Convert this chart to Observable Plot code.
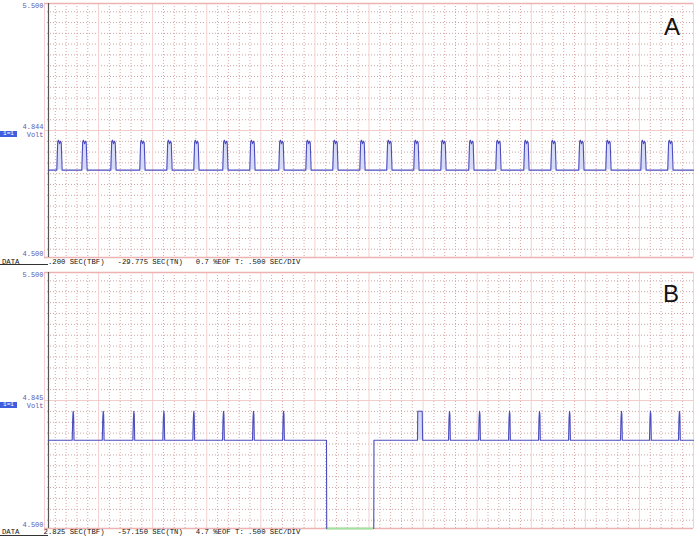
<!DOCTYPE html>
<html><head><meta charset="utf-8">
<script src="https://cdn.jsdelivr.net/npm/d3@7"></script>
<script src="https://cdn.jsdelivr.net/npm/@observablehq/plot@0.6"></script>
<style>
body{margin:0;background:#fff;}
#wrap{position:relative;width:700px;height:537px;overflow:hidden;font-family:"Liberation Mono",monospace;}
.panel{position:absolute;left:0;}
.row{position:absolute;white-space:pre;font-size:7.25px;line-height:8px;color:#111;}
.ul{position:absolute;left:0;width:48px;height:1px;background:#333;}
.ch{position:absolute;left:0;width:17px;height:6px;background:#3f5ede;color:#fff;font-size:6px;line-height:6px;text-align:center;}
.letter{position:absolute;font-family:"Liberation Sans",Arial,sans-serif;font-size:24px;line-height:24px;color:#111;}
</style></head><body><div id="wrap"></div>
<script>
// ---- data ----
const timeDomain = [0, 6];            // seconds, .500 SEC/DIV, 12 divisions
const voltDomain = [4.5, 5.5];
const yTickValues = [5.5, 4.5];
const yTickLabels = ["5.500", "4.500"];
const traceStart = 0.035;

// Panel A
const levelLabelA = "4.844";
const baselineA = 4.844;
const pulseTimesA = [0.139, 0.370, 0.638, 0.906, 1.156, 1.405, 1.673, 1.923, 2.191, 2.441, 2.690, 2.940,
                     3.189, 3.439, 3.689, 3.947, 4.197, 4.456, 4.706, 4.964, 5.214, 5.538, 5.787];
const pulseOffsetsA = [-0.025, -0.017, -0.010, 0.000, 0.009, 0.016, 0.024];
const pulseValuesA  = [4.844, 4.955, 4.962, 4.948, 4.958, 4.952, 4.844];
const dataRowA = " .200 SEC(TBF)   -29.775 SEC(TN)   0.7 %EOF T: .500 SEC/DIV";

// Panel B
const levelLabelB = "4.845";
const baselineB = 4.845;
const spikeTimesB1 = [0.265, 0.543, 0.826, 1.103, 1.380, 1.655, 1.932, 2.210];
const spikeTimesB2 = [3.744, 4.022, 4.299, 4.576, 4.854, 5.334, 5.602, 5.870];
const spikeOffsetsB = [-0.009, -0.004, 0.000, 0.004, 0.008];
const spikeValuesB  = [4.845, 4.930, 4.958, 4.945, 4.845];
const widePulseTimesB  = [3.448, 3.451, 3.492, 3.496];
const widePulseValuesB = [4.845, 4.958, 4.958, 4.845];
const dropoutB = [2.607, 3.044];      // signal drops to 4.500 between these times
const dataRowB = "2.825 SEC(TBF)   -57.150 SEC(TN)   4.7 %EOF T: .500 SEC/DIV";

// ---- build traces ----
function withPulses(pts, times, offsets, values, seg) {
  for (const t of times) offsets.forEach((o, i) => pts.push({t: t + o, v: values[i], seg}));
}
const traceA = [{t: traceStart, v: baselineA, seg: 0}];
withPulses(traceA, pulseTimesA, pulseOffsetsA, pulseValuesA, 0);
traceA.push({t: timeDomain[1], v: baselineA, seg: 0});

const traceB = [{t: traceStart, v: baselineB, seg: 0}];
withPulses(traceB, spikeTimesB1, spikeOffsetsB, spikeValuesB, 0);
traceB.push({t: dropoutB[0], v: baselineB, seg: 0});
traceB.push({t: dropoutB[0] + 0.002, v: voltDomain[0], seg: 0});
traceB.push({t: dropoutB[1], v: voltDomain[0], seg: 1});
traceB.push({t: dropoutB[1] + 0.002, v: baselineB, seg: 1});
widePulseTimesB.forEach((t, i) => traceB.push({t, v: widePulseValuesB[i], seg: 1}));
withPulses(traceB, spikeTimesB2, spikeOffsetsB, spikeValuesB, 1);
traceB.push({t: timeDomain[1], v: baselineB, seg: 1});

// ---- grid ----
const majorX = d3.range(13).map(i => i * 0.5);
const minorX = d3.range(61).filter(i => i % 5 !== 0).map(i => i / 10);
const minorY = d3.range(-11, 12).filter(k => k !== 0).map(k => 5 + k * 0.0425);
const tickLabel = d => yTickLabels[yTickValues.indexOf(d)];

function panel({height, mt, mb, trace, baseline, level, levelDy, voltDy, extra = []}) {
  return Plot.plot({
    width: 700, height, marginLeft: 44, marginRight: 7, marginTop: mt, marginBottom: mb,
    style: {background: "white", fontFamily: "Liberation Mono, monospace", fontSize: "7px", overflow: "visible"},
    x: {domain: timeDomain, axis: null},
    y: {domain: voltDomain, axis: null},
    marks: [
      Plot.ruleX(minorX, {stroke: "#dca4a4", strokeDasharray: "1,2", strokeWidth: 1}),
      Plot.ruleY(minorY, {stroke: "#cfa4a4", strokeDasharray: "1,2", strokeWidth: 1}),
      Plot.ruleX(majorX, {stroke: "#f5d0d0", strokeWidth: 1}),
      Plot.ruleY([5.0], {stroke: "#f3cccc", strokeWidth: 1}),
      Plot.ruleY(voltDomain, {stroke: "#eeb2b2", strokeWidth: 1.5}),
      ...extra,
      Plot.ruleX([0], {dx: 4, stroke: "#555", strokeWidth: 1.2}),
      Plot.areaY(trace, {x: "t", y1: () => baseline, y2: "v", z: "seg", fill: "#d6dcf7", curve: "linear"}),
      Plot.line(trace, {x: "t", y: "v", z: "seg", stroke: "#4c4cbf", strokeWidth: 1.1, curve: "linear"}),
      Plot.axisY([5.5], {tickSize: 0, tickPadding: 1, tickFormat: tickLabel, dy: 2.5, fill: "#5a5ab4", fontSize: 7, label: null}),
      Plot.axisY([4.5], {tickSize: 0, tickPadding: 1, tickFormat: tickLabel, dy: -4, fill: "#5a5ab4", fontSize: 7, label: null}),
      Plot.text([level], {y: () => 5.0, frameAnchor: "left", dx: -1, dy: levelDy, textAnchor: "end", fill: "#5a5ab4", fontSize: 7}),
      Plot.text(["Volt"], {y: () => 5.0, frameAnchor: "left", dx: -1, dy: voltDy, textAnchor: "end", fill: "#5a5ab4", fontSize: 7})
    ]
  });
}

const wrap = document.getElementById("wrap");
const pA = panel({height: 268, mt: 3, mb: 11, trace: traceA, baseline: baselineA, level: levelLabelA, levelDy: -4, voltDy: 4});
pA.classList.add("panel"); pA.style.top = "0px";
wrap.appendChild(pA);

const gap = [{a: dropoutB[0] + 0.002, b: dropoutB[1], v: voltDomain[0]}];
const pB = panel({height: 269, mt: 4, mb: 9, trace: traceB, baseline: baselineB, level: levelLabelB, levelDy: -3, voltDy: 5,
  extra: [Plot.ruleY(gap, {y: "v", x1: "a", x2: "b", stroke: "#9ee29e", strokeWidth: 2})]});
pB.classList.add("panel"); pB.style.top = "268px";
wrap.appendChild(pB);

function addDiv(cls, text, css) {
  const d = document.createElement("div");
  d.className = cls; d.textContent = text;
  Object.assign(d.style, css);
  wrap.appendChild(d);
}
addDiv("row", "DATA", {left: "2px", top: "257.5px"});
addDiv("ul", "", {top: "264px"});
addDiv("row", dataRowA, {left: "43.6px", top: "257.5px"});
addDiv("row", "DATA", {left: "2px", top: "528px"});
addDiv("ul", "", {top: "535px"});
addDiv("row", dataRowB, {left: "43.6px", top: "528px"});
addDiv("ch", "1=1", {top: "131px"});
addDiv("ch", "1=1", {top: "401.5px"});
addDiv("letter", "A", {left: "664px", top: "15px"});
addDiv("letter", "B", {left: "663px", top: "282px"});
</script></body></html>
